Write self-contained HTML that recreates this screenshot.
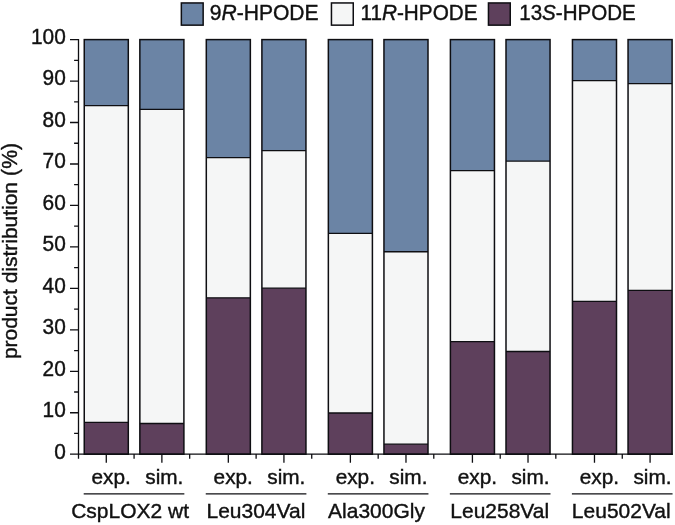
<!DOCTYPE html>
<html><head><meta charset="utf-8"><title>product distribution</title>
<style>html,body{margin:0;padding:0;background:#fff}svg{display:block}text{font-family:"Liberation Sans",Arial,Helvetica,sans-serif;fill:#111;stroke:#111;stroke-width:0.4px}</style></head><body>
<svg width="675" height="525" viewBox="0 0 675 525">
<rect width="675" height="525" fill="#fff"/>
<rect x="84.25" y="39.60" width="44.05" height="66.05" fill="#6b84a5"/>
<rect x="84.25" y="105.65" width="44.05" height="316.65" fill="#f5f6f6"/>
<rect x="84.25" y="422.30" width="44.05" height="31.90" fill="#5e405c"/>
<path d="M84.25 105.65H128.30M84.25 422.30H128.30" stroke="#0e0e12" stroke-width="1.30" fill="none"/>
<rect x="84.25" y="39.60" width="44.05" height="414.60" fill="none" stroke="#0e0e12" stroke-width="1.50"/>
<rect x="139.85" y="39.60" width="44.05" height="69.70" fill="#6b84a5"/>
<rect x="139.85" y="109.30" width="44.05" height="314.20" fill="#f5f6f6"/>
<rect x="139.85" y="423.50" width="44.05" height="30.70" fill="#5e405c"/>
<path d="M139.85 109.30H183.90M139.85 423.50H183.90" stroke="#0e0e12" stroke-width="1.30" fill="none"/>
<rect x="139.85" y="39.60" width="44.05" height="414.60" fill="none" stroke="#0e0e12" stroke-width="1.50"/>
<rect x="206.30" y="39.60" width="44.05" height="118.10" fill="#6b84a5"/>
<rect x="206.30" y="157.70" width="44.05" height="140.10" fill="#f5f6f6"/>
<rect x="206.30" y="297.80" width="44.05" height="156.40" fill="#5e405c"/>
<path d="M206.30 157.70H250.35M206.30 297.80H250.35" stroke="#0e0e12" stroke-width="1.30" fill="none"/>
<rect x="206.30" y="39.60" width="44.05" height="414.60" fill="none" stroke="#0e0e12" stroke-width="1.50"/>
<rect x="261.90" y="39.60" width="44.05" height="111.10" fill="#6b84a5"/>
<rect x="261.90" y="150.70" width="44.05" height="137.50" fill="#f5f6f6"/>
<rect x="261.90" y="288.20" width="44.05" height="166.00" fill="#5e405c"/>
<path d="M261.90 150.70H305.95M261.90 288.20H305.95" stroke="#0e0e12" stroke-width="1.30" fill="none"/>
<rect x="261.90" y="39.60" width="44.05" height="414.60" fill="none" stroke="#0e0e12" stroke-width="1.50"/>
<rect x="328.35" y="39.60" width="44.05" height="193.80" fill="#6b84a5"/>
<rect x="328.35" y="233.40" width="44.05" height="179.60" fill="#f5f6f6"/>
<rect x="328.35" y="413.00" width="44.05" height="41.20" fill="#5e405c"/>
<path d="M328.35 233.40H372.40M328.35 413.00H372.40" stroke="#0e0e12" stroke-width="1.30" fill="none"/>
<rect x="328.35" y="39.60" width="44.05" height="414.60" fill="none" stroke="#0e0e12" stroke-width="1.50"/>
<rect x="383.95" y="39.60" width="44.05" height="212.15" fill="#6b84a5"/>
<rect x="383.95" y="251.75" width="44.05" height="192.45" fill="#f5f6f6"/>
<rect x="383.95" y="444.20" width="44.05" height="10.00" fill="#5e405c"/>
<path d="M383.95 251.75H428.00M383.95 444.20H428.00" stroke="#0e0e12" stroke-width="1.30" fill="none"/>
<rect x="383.95" y="39.60" width="44.05" height="414.60" fill="none" stroke="#0e0e12" stroke-width="1.50"/>
<rect x="450.40" y="39.60" width="44.05" height="131.10" fill="#6b84a5"/>
<rect x="450.40" y="170.70" width="44.05" height="171.00" fill="#f5f6f6"/>
<rect x="450.40" y="341.70" width="44.05" height="112.50" fill="#5e405c"/>
<path d="M450.40 170.70H494.45M450.40 341.70H494.45" stroke="#0e0e12" stroke-width="1.30" fill="none"/>
<rect x="450.40" y="39.60" width="44.05" height="414.60" fill="none" stroke="#0e0e12" stroke-width="1.50"/>
<rect x="506.00" y="39.60" width="44.05" height="121.55" fill="#6b84a5"/>
<rect x="506.00" y="161.15" width="44.05" height="190.35" fill="#f5f6f6"/>
<rect x="506.00" y="351.50" width="44.05" height="102.70" fill="#5e405c"/>
<path d="M506.00 161.15H550.05M506.00 351.50H550.05" stroke="#0e0e12" stroke-width="1.30" fill="none"/>
<rect x="506.00" y="39.60" width="44.05" height="414.60" fill="none" stroke="#0e0e12" stroke-width="1.50"/>
<rect x="572.45" y="39.60" width="44.05" height="41.00" fill="#6b84a5"/>
<rect x="572.45" y="80.60" width="44.05" height="220.70" fill="#f5f6f6"/>
<rect x="572.45" y="301.30" width="44.05" height="152.90" fill="#5e405c"/>
<path d="M572.45 80.60H616.50M572.45 301.30H616.50" stroke="#0e0e12" stroke-width="1.30" fill="none"/>
<rect x="572.45" y="39.60" width="44.05" height="414.60" fill="none" stroke="#0e0e12" stroke-width="1.50"/>
<rect x="628.05" y="39.60" width="44.05" height="44.10" fill="#6b84a5"/>
<rect x="628.05" y="83.70" width="44.05" height="206.70" fill="#f5f6f6"/>
<rect x="628.05" y="290.40" width="44.05" height="163.80" fill="#5e405c"/>
<path d="M628.05 83.70H672.10M628.05 290.40H672.10" stroke="#0e0e12" stroke-width="1.30" fill="none"/>
<rect x="628.05" y="39.60" width="44.05" height="414.60" fill="none" stroke="#0e0e12" stroke-width="1.50"/>
<path d="M78.50 38.95V458.70M70.00 454.20H672.90M70.00 454.20H78.50M74.10 433.47H78.50M70.00 412.74H78.50M74.10 392.01H78.50M70.00 371.28H78.50M74.10 350.55H78.50M70.00 329.82H78.50M74.10 309.09H78.50M70.00 288.36H78.50M74.10 267.63H78.50M70.00 246.90H78.50M74.10 226.17H78.50M70.00 205.44H78.50M74.10 184.71H78.50M70.00 163.98H78.50M74.10 143.25H78.50M70.00 122.52H78.50M74.10 101.79H78.50M70.00 81.06H78.50M74.10 60.33H78.50M70.00 39.60H78.50M106.28 454.20V462.70M134.08 454.20V458.70M161.88 454.20V462.70M189.68 454.20V458.70M228.32 454.20V462.70M256.12 454.20V458.70M283.93 454.20V462.70M311.73 454.20V458.70M350.38 454.20V462.70M378.18 454.20V458.70M405.98 454.20V462.70M433.78 454.20V458.70M472.42 454.20V462.70M500.22 454.20V458.70M528.02 454.20V462.70M555.82 454.20V458.70M594.48 454.20V462.70M622.27 454.20V458.70M650.08 454.20V462.70" stroke="#0e0e12" stroke-width="1.30" fill="none"/>
<text transform="translate(65.80 458.50) scale(0.975 1)" font-size="21.4" text-anchor="end">0</text>
<text transform="translate(65.80 417.04) scale(0.975 1)" font-size="21.4" text-anchor="end">10</text>
<text transform="translate(65.80 375.58) scale(0.975 1)" font-size="21.4" text-anchor="end">20</text>
<text transform="translate(65.80 334.12) scale(0.975 1)" font-size="21.4" text-anchor="end">30</text>
<text transform="translate(65.80 292.66) scale(0.975 1)" font-size="21.4" text-anchor="end">40</text>
<text transform="translate(65.80 251.20) scale(0.975 1)" font-size="21.4" text-anchor="end">50</text>
<text transform="translate(65.80 209.74) scale(0.975 1)" font-size="21.4" text-anchor="end">60</text>
<text transform="translate(65.80 168.28) scale(0.975 1)" font-size="21.4" text-anchor="end">70</text>
<text transform="translate(65.80 126.82) scale(0.975 1)" font-size="21.4" text-anchor="end">80</text>
<text transform="translate(65.80 85.36) scale(0.975 1)" font-size="21.4" text-anchor="end">90</text>
<text transform="translate(65.80 43.90) scale(0.975 1)" font-size="21.4" text-anchor="end">100</text>
<text transform="translate(17.2 359.1) rotate(-90) scale(1.038 1)" font-size="20.2">product distribution</text>
<text transform="translate(17.2 175.9) rotate(-90) scale(0.990 1)" font-size="21.4">(%)</text>
<text transform="translate(111.18 484.20) scale(1.066 1)" font-size="19.5" text-anchor="middle">exp.</text>
<text transform="translate(164.28 484.20) scale(1.066 1)" font-size="19.5" text-anchor="middle">sim.</text>
<text transform="translate(233.22 484.20) scale(1.066 1)" font-size="19.5" text-anchor="middle">exp.</text>
<text transform="translate(286.32 484.20) scale(1.066 1)" font-size="19.5" text-anchor="middle">sim.</text>
<text transform="translate(355.27 484.20) scale(1.066 1)" font-size="19.5" text-anchor="middle">exp.</text>
<text transform="translate(408.38 484.20) scale(1.066 1)" font-size="19.5" text-anchor="middle">sim.</text>
<text transform="translate(477.32 484.20) scale(1.066 1)" font-size="19.5" text-anchor="middle">exp.</text>
<text transform="translate(530.42 484.20) scale(1.066 1)" font-size="19.5" text-anchor="middle">sim.</text>
<text transform="translate(599.38 484.20) scale(1.066 1)" font-size="19.5" text-anchor="middle">exp.</text>
<text transform="translate(652.48 484.20) scale(1.066 1)" font-size="19.5" text-anchor="middle">sim.</text>
<text transform="translate(130.10 518.40) scale(0.995 1)" font-size="21.1" text-anchor="middle">CspLOX2 wt</text>
<path d="M83.70 493.8H184.35" stroke="#0e0e12" stroke-width="1.35"/>
<text transform="translate(255.90 518.40) scale(0.995 1)" font-size="21.1" text-anchor="middle">Leu304Val</text>
<path d="M205.75 493.8H306.40" stroke="#0e0e12" stroke-width="1.35"/>
<text transform="translate(376.50 518.40) scale(0.995 1)" font-size="21.1" text-anchor="middle">Ala300Gly</text>
<path d="M327.80 493.8H428.45" stroke="#0e0e12" stroke-width="1.35"/>
<text transform="translate(499.72 518.40) scale(0.995 1)" font-size="21.1" text-anchor="middle">Leu258Val</text>
<path d="M449.85 493.8H550.50" stroke="#0e0e12" stroke-width="1.35"/>
<text transform="translate(621.25 518.40) scale(0.995 1)" font-size="21.1" text-anchor="middle">Leu502Val</text>
<path d="M571.90 493.8H672.55" stroke="#0e0e12" stroke-width="1.35"/>
<rect x="181.35" y="2.95" width="21.80" height="22.20" fill="#6b84a5" stroke="#0e0e12" stroke-width="1.50"/>
<text transform="translate(209.70 19.50) scale(0.985 1)" font-size="21.4" text-anchor="start">9<tspan font-style="italic">R</tspan>-HPODE</text>
<rect x="331.45" y="2.95" width="21.80" height="22.20" fill="#f5f6f6" stroke="#0e0e12" stroke-width="1.50"/>
<text transform="translate(360.40 19.50) scale(0.970 1)" font-size="21.4" text-anchor="start">11<tspan font-style="italic">R</tspan>-HPODE</text>
<rect x="488.45" y="2.95" width="21.80" height="22.20" fill="#5e405c" stroke="#0e0e12" stroke-width="1.50"/>
<text transform="translate(519.20 19.50) scale(0.962 1)" font-size="21.4" text-anchor="start">13<tspan font-style="italic">S</tspan>-HPODE</text>
</svg></body></html>
